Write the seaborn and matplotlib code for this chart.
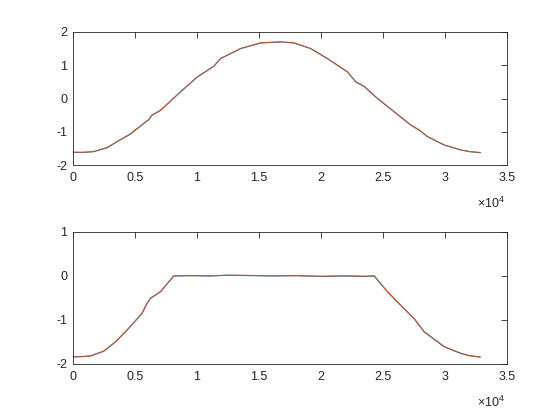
import numpy as np
import pandas as pd
import matplotlib
matplotlib.use("Agg")
import matplotlib.pyplot as plt
import seaborn as sns

# ---- data ----
x_top = [0, 800, 1670, 2750, 3690, 4630, 5710, 6100, 6380, 7050, 7860, 8670, 10010,
         11360, 11900, 13520, 15130, 16750, 17820, 19170, 20510, 22130, 22800, 23480,
         24550, 25900, 27240, 27920, 28590, 29940, 31280, 32000, 32850]
y_top_a = [-1.62, -1.62, -1.60, -1.48, -1.27, -1.07, -0.75, -0.64, -0.50, -0.36, -0.08, 0.20, 0.64,
           0.97, 1.20, 1.50, 1.67, 1.70, 1.67, 1.50, 1.20, 0.80, 0.50, 0.36,
           0.00, -0.40, -0.80, -0.95, -1.15, -1.40, -1.55, -1.60, -1.63]
y_top_b = [-1.615, -1.62, -1.595, -1.475, -1.265, -1.065, -0.745, -0.635, -0.495, -0.355, -0.075, 0.205, 0.645,
           0.975, 1.205, 1.505, 1.675, 1.705, 1.675, 1.505, 1.205, 0.805, 0.505, 0.365,
           0.005, -0.395, -0.795, -0.945, -1.145, -1.395, -1.545, -1.595, -1.625]

x_bot = [0, 700, 1400, 2480, 3420, 4360, 5570, 5900, 6240, 7050, 8130, 9500, 11000, 12500,
         14000, 16000, 18000, 20000, 22000, 23500, 24290, 25360, 26440, 27510, 28320,
         29940, 31280, 32000, 32850]
y_bot_a = [-1.84, -1.83, -1.82, -1.71, -1.50, -1.23, -0.85, -0.66, -0.51, -0.36, 0.00, 0.01, 0.00, 0.02,
           0.01, 0.00, 0.01, -0.01, 0.00, -0.01, 0.00, -0.36, -0.67, -0.97, -1.27,
           -1.61, -1.76, -1.81, -1.84]
y_bot_b = [-1.835, -1.835, -1.815, -1.705, -1.495, -1.225, -0.845, -0.655, -0.505, -0.355, 0.005, 0.005, 0.005, 0.015,
           0.015, 0.005, 0.005, -0.005, 0.005, -0.005, 0.005, -0.355, -0.665, -0.965, -1.265,
           -1.605, -1.755, -1.815, -1.845]

x_ticks = [0, 5000, 10000, 15000, 20000, 25000, 30000, 35000]
x_ticklabels = ["0", "0.5", "1", "1.5", "2", "2.5", "3", "3.5"]
y_ticks_top = [-2, -1, 0, 1, 2]
y_ticks_bot = [-2, -1, 0, 1]

sns.set_style("white")
plt.rcParams["font.family"] = ["Liberation Sans", "DejaVu Sans"]
plt.rcParams["mathtext.fontset"] = "custom"
plt.rcParams["mathtext.rm"] = "Liberation Sans"
plt.rcParams["font.size"] = 9

blue = (0.0, 0.447, 0.741)
orange = (0.85, 0.325, 0.098)
axcol = (0.15, 0.15, 0.15)

fig = plt.figure(figsize=(5.6, 4.2), dpi=100)
ax1 = fig.add_axes([73/560, 1-165/420, 434/560, 133/420])
ax2 = fig.add_axes([73/560, 1-364/420, 434/560, 132/420])

def draw(ax, x, ya, yb, yt, ylim):
    df = pd.DataFrame({"x": x, "a": ya, "b": yb})
    sns.lineplot(data=df, x="x", y="a", ax=ax, color=blue, lw=0.8)
    sns.lineplot(data=df, x="x", y="b", ax=ax, color=orange, lw=0.8, alpha=0.85)
    ax.set_xlim(0, 35000)
    ax.set_ylim(*ylim)
    ax.set_xticks(x_ticks)
    ax.set_xticklabels(x_ticklabels)
    ax.set_yticks(yt)
    ax.set_yticklabels([str(v) for v in yt])
    ax.set_xlabel("")
    ax.set_ylabel("")
    ax.tick_params(direction="in", length=4, width=0.6, colors=axcol, labelcolor=axcol,
                   top=True, right=True, labelsize=9)
    ax.tick_params(axis="x", pad=5)
    ax.tick_params(axis="y", pad=4)
    for s in ax.spines.values():
        s.set_visible(True)
        s.set_color(axcol)
        s.set_linewidth(0.6)
    ax.annotate(r"$\times10^{4}$", xy=(1.0, 0), xycoords="axes fraction",
                xytext=(-2, -38), textcoords="offset pixels", ha="right", va="center",
                color=axcol, fontsize=9)

draw(ax1, x_top, y_top_a, y_top_b, y_ticks_top, (-2, 2))
draw(ax2, x_bot, y_bot_a, y_bot_b, y_ticks_bot, (-2, 1))

fig.savefig("out.png", dpi=100, facecolor="white")
